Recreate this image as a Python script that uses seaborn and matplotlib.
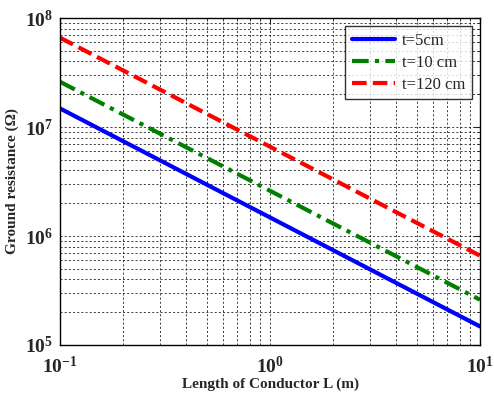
import matplotlib
matplotlib.use("Agg")
import matplotlib.pyplot as plt
import matplotlib.ticker as mticker
import seaborn as sns
import pandas as pd
import numpy as np

length_m = [0.1, 0.2, 0.5, 1.0, 2.0, 5.0, 10.0]
r_t5 = [1.48e7, 7.4e6, 2.96e6, 1.48e6, 7.4e5, 2.96e5, 1.48e5]
r_t10 = [2.6e7, 1.3e7, 5.2e6, 2.6e6, 1.3e6, 5.2e5, 2.6e5]
r_t120 = [6.6e7, 3.3e7, 1.32e7, 6.6e6, 3.3e6, 1.32e6, 6.6e5]
labels = ["t=5cm", "t=10 cm", "t=120 cm"]
colors = ["#0000ff", "#008000", "#ff0000"]

df = pd.concat([
    pd.DataFrame({"L": length_m, "R": r, "series": lab})
    for r, lab in zip([r_t5, r_t10, r_t120], labels)
])

sns.set_style("white")
plt.rcParams["font.family"] = ["Liberation Serif", "DejaVu Serif"]
plt.rcParams["mathtext.fontset"] = "custom"
plt.rcParams["mathtext.rm"] = "Liberation Serif:bold"
plt.rcParams["mathtext.bf"] = "Liberation Serif:bold"
plt.rcParams["mathtext.it"] = "Liberation Serif:bold"

fig = plt.figure(figsize=(4.94, 3.96), dpi=100)
ax = fig.add_axes([60/494, 1 - 345/396, 420/494, 327/396])

sns.lineplot(data=df, x="L", y="R", hue="series", style="series",
             palette=colors, hue_order=labels, style_order=labels,
             dashes={"t=5cm": "", "t=10 cm": (4, 1.5, 1, 1.5), "t=120 cm": (3.5, 1.5)},
             linewidth=3, ax=ax)

ax.set_xscale("log")
ax.set_yscale("log")
ax.set_xlim(0.1, 10)
ax.set_ylim(1e5, 1e8)

def fmt(v, pos):
    e = int(round(np.log10(v)))
    return r"$\mathbf{10^{%d}}$" % e

ax.xaxis.set_major_formatter(mticker.FuncFormatter(fmt))
ax.yaxis.set_major_formatter(mticker.FuncFormatter(fmt))
ax.xaxis.set_minor_formatter(mticker.NullFormatter())
ax.yaxis.set_minor_formatter(mticker.NullFormatter())

ax.grid(True, which="both", color="#222222", linestyle=(0, (2.5, 2.5)), linewidth=0.6)
ax.set_axisbelow(True)
ax.tick_params(which="both", direction="in", top=True, right=True, labelsize=14)
ax.tick_params(which="major", length=4)
ax.tick_params(which="minor", length=2)
for s in ax.spines.values():
    s.set_color("black")
    s.set_linewidth(1)

ax.set_xlabel("Length of Conductor L (m)", fontsize=11, fontweight="bold")
ax.xaxis.set_label_coords(0.5, -0.1)
ax.set_ylabel("Ground resistance (Ω)", fontsize=11, fontweight="bold")
ax.tick_params(axis="x", pad=8)
ax.tick_params(axis="y", pad=5)

leg = ax.legend(loc="upper right", fontsize=12, frameon=True, fancybox=False,
                edgecolor="black", handlelength=2.6, borderaxespad=0.5,
                labelspacing=0.35, handletextpad=0.4)
leg.get_frame().set_linewidth(1)
leg.set_title(None)

fig.savefig("out.png", dpi=100)
